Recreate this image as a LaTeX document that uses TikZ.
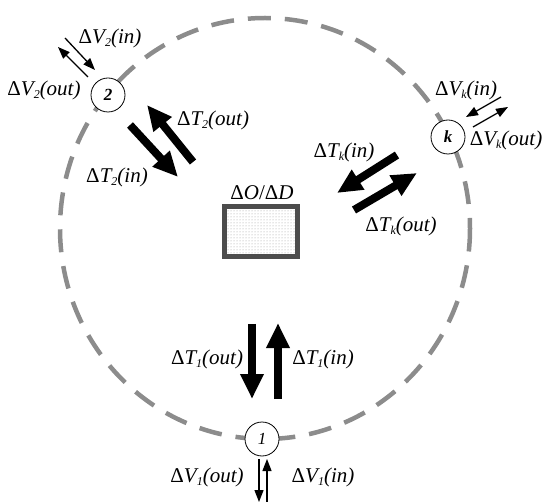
\documentclass[tikz,border=0pt]{standalone}
\usepackage{fontspec}
\setmainfont{Liberation Serif}
\usetikzlibrary{arrows.meta,patterns}
\newcommand{\idx}[1]{\raisebox{-0.35ex}{\fontsize{12}{12}\selectfont #1}}
\newcommand{\dlt}[3]{Δ\textit{#1\idx{#2}(#3)}}
\tikzset{
  station/.style={circle, draw, thick, fill=white, minimum size=34pt, inner sep=0pt,
    font=\fontsize{17}{17}\selectfont\itshape},
  flow/.style={line width=8pt, -{Triangle[width=22pt,length=25pt]}},
  visit/.style={line width=1.3pt, -{Triangle[width=9pt,length=12pt]}},
  lbl/.style={font=\fontsize{21}{21}\selectfont, inner sep=0pt},
  odbox/.style={draw=black!70, line width=5pt, pattern=dots, pattern color=gray!80,
    minimum width=73pt, minimum height=50pt, inner sep=0pt},
}
\begin{document}
\begin{tikzpicture}[x=1pt,y=-1pt]
  \useasboundingbox (0,0) rectangle (543,502);

  % zone boundary
  \draw[black!45, line width=4.5pt, dash pattern=on 23pt off 14pt]
    (265,228.5) ellipse [x radius=205, y radius=210.5];

  % stations and O/D
  \node[station] (s1) at (262,439) {1};
  \node[station, font=\fontsize{17}{17}\selectfont\bfseries\itshape] (s2) at (108,95) {2};
  \node[station, font=\fontsize{17}{17}\selectfont\bfseries\itshape] (sk) at (448,137) {k};
  \node[odbox] (od) at (261,231.5) {};
  \node[lbl] (odl) at (262,193) {Δ\textit{O}/Δ\textit{D}};

  % trips
  \draw[flow] (252,324) -- (252,399);
  \draw[flow] (278,399) -- (278,323);
  \draw[flow] (130,125) -- (178,177);
  \draw[flow] (193,162) -- (147,105);
  \draw[flow] (397,155) -- (337,193);
  \draw[flow] (354,210) -- (417,173);

  % visitors
  \draw[visit] (65,38) -- (95,70);
  \draw[visit] (88,77) -- (58,47);
  \draw[visit] (501,97) -- (466,117);
  \draw[visit] (473,127) -- (508,107);
  \draw[visit] (259,459) -- (259,502);
  \draw[visit] (267,502) -- (267,459);

  \node[lbl] (v2in) at (110,38) {\dlt{V}{2}{in}};
  \node[lbl] (v2out) at (44,90) {\dlt{V}{2}{out}};
  \node[lbl] (t2out) at (213,120) {\dlt{T}{2}{out}};
  \node[lbl] (t2in) at (117,177) {\dlt{T}{2}{in}};
  \node[lbl] (vkin) at (466,90) {\dlt{V}{k}{in}};
  \node[lbl] (vkout) at (506,140) {\dlt{V}{k}{out}};
  \node[lbl] (tkin) at (344,152) {\dlt{T}{k}{in}};
  \node[lbl] (tkout) at (401,226) {\dlt{T}{k}{out}};
  \node[lbl] (t1out) at (207,359) {\dlt{T}{1}{out}};
  \node[lbl] (t1in) at (323,359) {\dlt{T}{1}{in}};
  \node[lbl] (v1out) at (207,477) {\dlt{V}{1}{out}};
  \node[lbl] (v1in) at (323,477) {\dlt{V}{1}{in}};
\end{tikzpicture}
\end{document}
